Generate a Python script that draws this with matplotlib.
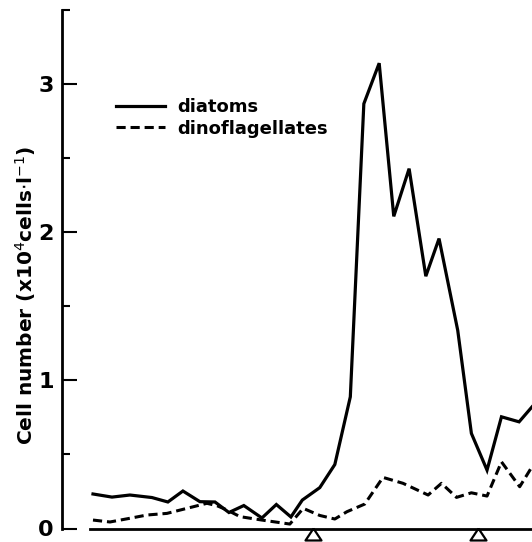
import matplotlib
matplotlib.use('Agg')
import matplotlib.pyplot as plt
from matplotlib.ticker import MultipleLocator

# sampling positions and cell numbers (x10^4 cells per litre)
diatom_x = [1.0, 2.25, 3.43, 4.88, 5.93, 6.92, 8.04, 9.03, 9.95, 10.93,
            12.12, 13.07, 14.03, 14.78, 15.93, 16.92, 17.94, 18.83, 19.84, 20.80,
            21.81, 22.91, 23.78, 25.01, 25.91, 26.94, 27.89, 29.05, 29.9]
diatoms = [0.233, 0.212, 0.226, 0.209, 0.179, 0.253, 0.181, 0.179, 0.108, 0.155,
           0.071, 0.162, 0.078, 0.192, 0.276, 0.432, 0.889, 2.867, 3.141, 2.107,
           2.429, 1.703, 1.957, 1.338, 0.642, 0.394, 0.754, 0.720, 0.821]

dino_x = [1.0, 2.12, 3.43, 4.55, 5.87, 7.18, 8.5, 9.16, 9.82, 10.68,
          12.12, 13.96, 14.84, 15.93, 16.92, 17.71, 18.89, 20.09, 21.41, 23.06,
          23.94, 24.93, 25.91, 26.94, 27.89, 29.09, 29.9]
dinoflagellates = [0.057, 0.044, 0.069, 0.091, 0.102, 0.136, 0.170, 0.154, 0.125, 0.080,
                   0.057, 0.030, 0.136, 0.088, 0.064, 0.113, 0.165, 0.345, 0.305, 0.226,
                   0.305, 0.210, 0.241, 0.219, 0.450, 0.282, 0.417]

# event markers on the time axis
event_x = [15.47, 26.33]

font = 'DejaVu Sans'

fig = plt.figure(figsize=(5.32, 5.42), dpi=100)
ax = fig.add_axes([62 / 532, 13.5 / 542, 470 / 532, 518.5 / 542])

ax.plot(diatom_x, diatoms, color='black', lw=2.3, solid_joinstyle='miter', label='diatoms')
ax.plot(dino_x, dinoflagellates, color='black', lw=2.2, dashes=(3, 1.6), label='dinoflagellates')

tri = [(0, 0.75), (-1, -0.75), (1, -0.75), (0, 0.75)]
ax.plot(event_x, [-0.04] * len(event_x), linestyle='none', marker=tri, markersize=11.5,
        markerfacecolor='white', markeredgecolor='black', markeredgewidth=1.6, clip_on=False)

ax.set_xlim(-1.04, 29.9)
ax.set_ylim(0, 3.5)

ax.yaxis.set_major_locator(MultipleLocator(1))
ax.yaxis.set_minor_locator(MultipleLocator(0.5))
ax.tick_params(axis='y', which='major', direction='in', length=11, width=1.5, pad=6,
               labelsize=16)
ax.tick_params(axis='y', which='minor', direction='in', length=6, width=1.5)
ax.set_xticks([])
for lab in ax.get_yticklabels():
    lab.set_fontweight('bold')
    lab.set_family(font)

ax.spines['top'].set_visible(False)
ax.spines['right'].set_visible(False)
ax.spines['left'].set_linewidth(2)
ax.spines['bottom'].set_linewidth(2)
ax.spines['bottom'].set_bounds(0.8, 29.9)

ax.set_ylabel('Cell number (x10$^4$cells$\\cdot$l$^{-1}$)', fontsize=14.5, fontweight='bold',
              family=font)
ax.yaxis.set_label_coords(-0.05, 0.45)

leg = ax.legend(loc='upper left', bbox_to_anchor=(0.115, 0.83), frameon=False,
                prop={'family': font, 'weight': 'bold', 'size': 13},
                handlelength=2.7, handletextpad=0.7, labelspacing=0.2,
                borderpad=0, borderaxespad=0)

plt.savefig('out.png', dpi=100)
